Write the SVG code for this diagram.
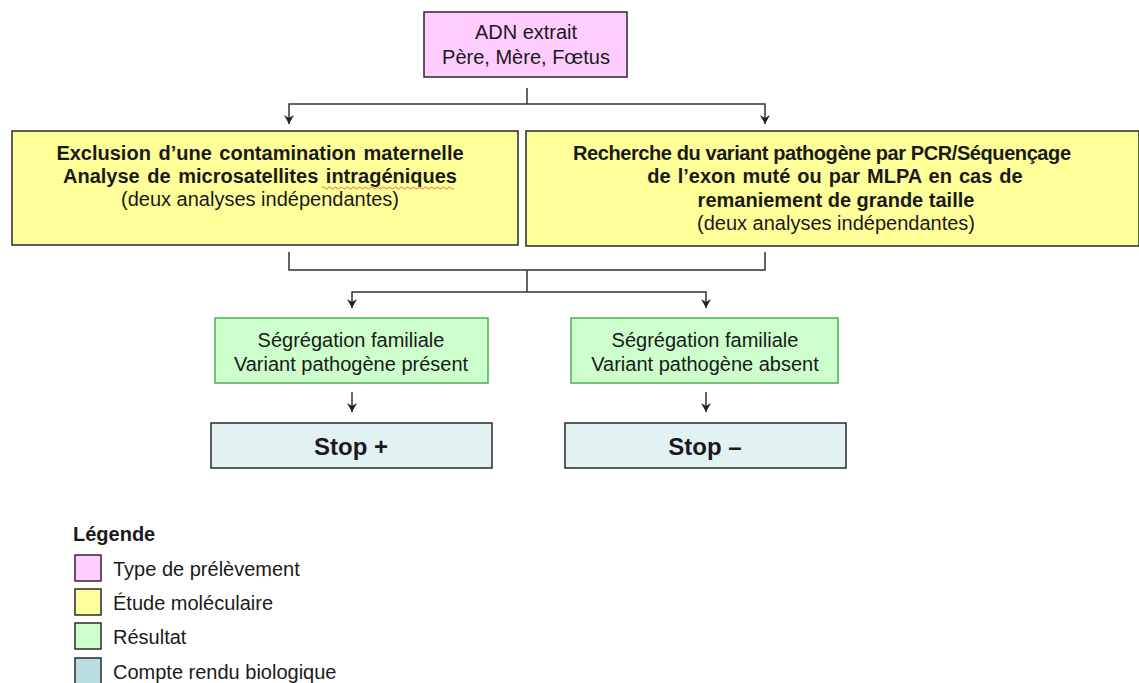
<svg xmlns="http://www.w3.org/2000/svg" width="1139" height="683" viewBox="0 0 1139 683">
<style>
text{font-family:"Liberation Sans",Arial,sans-serif;fill:#1a1a1a;text-anchor:middle}
.t{font-size:20px}
.b{font-size:20px;font-weight:bold}
.s{font-size:24px;font-weight:bold}
.l{font-size:20px;text-anchor:start}
.box{stroke:#2a2a2a;stroke-width:1.5}
.pink{fill:#FFCCFF}
.yel{fill:#FFFF99}
.grn{fill:#CCFFCC;stroke:#4caf50;stroke-width:1.5}
.blu{fill:#E2F2F3}
.lblu{fill:#B9DEE2}
.c{fill:none;stroke:#333;stroke-width:1.5}
</style>
<defs>
<marker id="ah" viewBox="0 0 10 10" refX="10" refY="5" markerWidth="10" markerHeight="10" markerUnits="userSpaceOnUse" orient="auto-start-reverse">
<path d="M1,0 L10,5 L1,10 L4,5 Z" fill="#222"/>
</marker>
</defs>
<g id="connectors">
<path class="c" d="M527,88 V104"/>
<path class="c" d="M289,124 V104 H765 V124" marker-start="url(#ah)" marker-end="url(#ah)"/>
<path class="c" d="M289,252 V270 H765 V252"/>
<path class="c" d="M527,270 V292"/>
<path class="c" d="M352,308 V292 H706 V308" marker-start="url(#ah)" marker-end="url(#ah)"/>
<path class="c" d="M352,392 V412" marker-end="url(#ah)"/>
<path class="c" d="M706,392 V412" marker-end="url(#ah)"/>
</g>
<g id="n-adn">
<rect class="box pink" x="424" y="12" width="203" height="65"/>
<text class="t" x="526" y="39">ADN extrait</text>
<text class="t" x="526" y="64">Père, Mère, Fœtus</text>
</g>
<g id="n-exclusion">
<rect class="box yel" x="12" y="131" width="506" height="114"/>
<text class="b" x="260" y="160" word-spacing="2">Exclusion d’une contamination maternelle</text>
<text class="b" x="260" y="183" word-spacing="2">Analyse de microsatellites intragéniques</text>
<path d="M322,188 q1.5,-2 3,0 t3,0 t3,0 t3,0 t3,0 t3,0 t3,0 t3,0 t3,0 t3,0 t3,0 t3,0 t3,0 t3,0 t3,0 t3,0 t3,0 t3,0 t3,0 t3,0 t3,0 t3,0 t3,0 t3,0 t3,0 t3,0 t3,0 t3,0 t3,0 t3,0 t3,0 t3,0 t3,0 t3,0 t3,0 t3,0 t3,0 t3,0 t3,0 t3,0 t3,0 t3,0 t3,0 t3,0" fill="none" stroke="#e04040" stroke-width="0.8"/>
<text class="t" x="260" y="206">(deux analyses indépendantes)</text>
</g>
<g id="n-recherche">
<rect class="box yel" x="526" y="131" width="613" height="115"/>
<text class="b" x="822" y="160" textLength="498" lengthAdjust="spacing">Recherche du variant pathogène par PCR/Séquençage</text>
<text class="b" x="835" y="183" word-spacing="1.5">de l’exon muté ou par MLPA en cas de</text>
<text class="b" x="836" y="207">remaniement de grande taille</text>
<text class="t" x="836" y="230">(deux analyses indépendantes)</text>
</g>
<g id="n-present">
<rect class="grn" x="215" y="318" width="273" height="65"/>
<text class="t" x="351" y="347">Ségrégation familiale</text>
<text class="t" x="351" y="371">Variant pathogène présent</text>
</g>
<g id="n-absent">
<rect class="grn" x="571" y="318" width="267" height="65"/>
<text class="t" x="705" y="347">Ségrégation familiale</text>
<text class="t" x="705" y="371">Variant pathogène absent</text>
</g>
<g id="n-stopplus">
<rect class="box blu" x="211" y="423" width="281" height="45"/>
<text class="s" x="351" y="455">Stop +</text>
</g>
<g id="n-stopminus">
<rect class="box blu" x="565" y="423" width="281" height="45"/>
<text class="s" x="705" y="455">Stop –</text>
</g>
<g id="legend">
<text class="l" x="73" y="541" style="font-weight:bold">Légende</text>
<rect class="box pink" x="75" y="555" width="26" height="26"/>
<text class="l" x="113" y="576">Type de prélèvement</text>
<rect class="box yel" x="75" y="589" width="26" height="26"/>
<text class="l" x="113" y="610">Étude moléculaire</text>
<rect class="box" style="fill:#CCFFCC" x="75" y="623" width="26" height="26"/>
<text class="l" x="113" y="644">Résultat</text>
<rect class="box lblu" x="75" y="658" width="26" height="26"/>
<text class="l" x="113" y="679">Compte rendu biologique</text>
</g>
</svg>
